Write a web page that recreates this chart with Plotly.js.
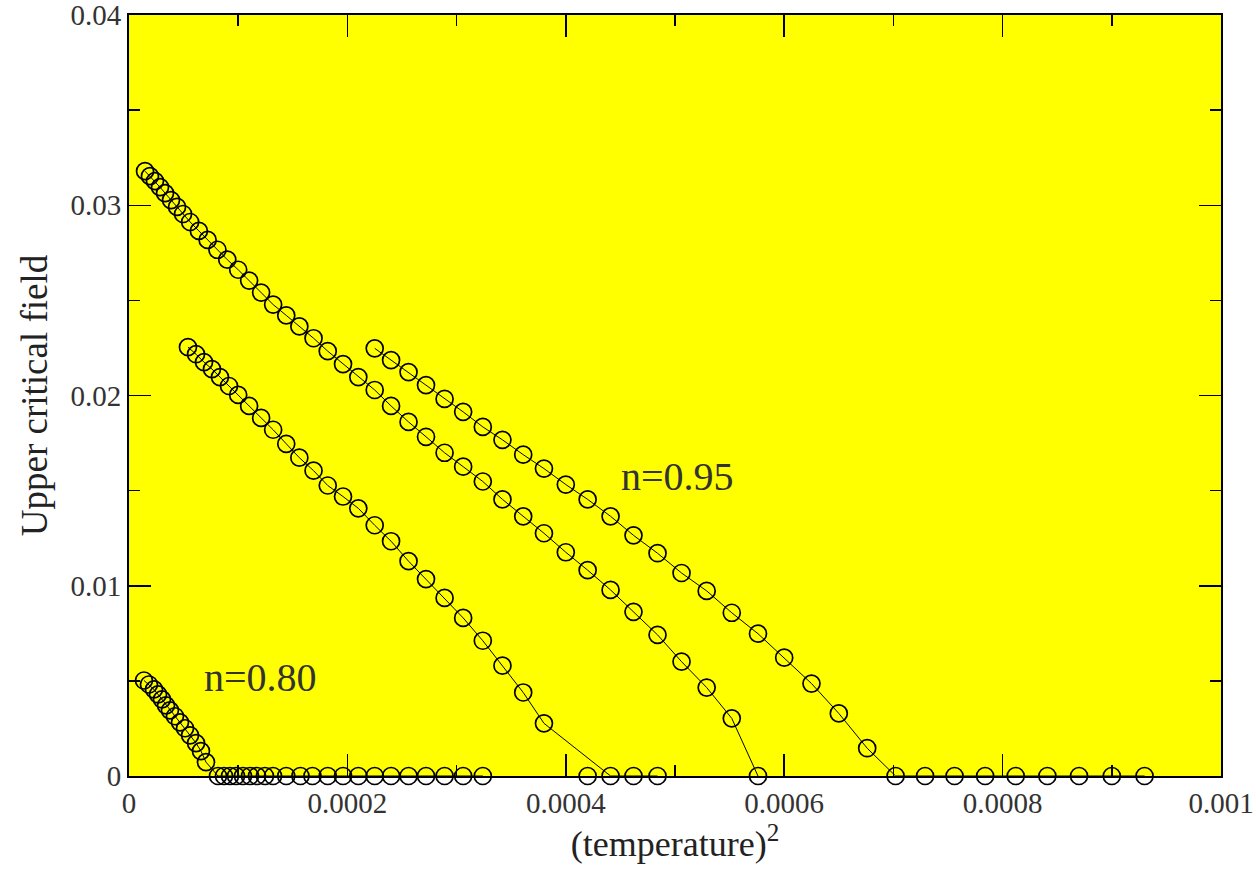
<!DOCTYPE html>
<html>
<head>
<meta charset="utf-8">
<script src="https://cdn.plot.ly/plotly-3.0.1.min.js"></script>
<style>
html,body{margin:0;padding:0;background:#fff;}
#chart{width:1256px;height:872px;}
</style>
</head>
<body>
<div id="chart"></div>
<script>
// Series n=0.80 (bottom-left) : (temperature)^2 and upper critical field
const xA = [0.0000137,0.0000183,0.0000229,0.0000266,0.0000302,0.0000339,0.0000375,0.0000421,0.0000467,0.0000513,0.0000559,0.0000614,0.0000659,0.0000705,
            0.0000815,0.000087,0.0000925,0.000098,0.0001044,0.0001108,0.0001172,0.0001245,0.0001319,0.000144,0.000157,0.000168,0.000182,0.000196,0.00021,0.000225,0.00024,0.000256,0.000272,0.000289,0.000306,0.000324];
const yA = [0.00502,0.00481,0.00455,0.00429,0.00403,0.00371,0.00345,0.00314,0.00282,0.00251,0.00214,0.00173,0.00131,0.00073,
            0,0,0,0,0,0,0,0,0,0,0,0,0,0,0,0,0,0,0,0,0,0];

// Series starting at 0.032 (middle line)
const xB = [0.0000147,0.0000192,0.0000238,0.0000284,0.000033,0.0000385,0.000044,0.0000495,0.000056,0.000064,0.000072,0.000081,0.00009,0.0001,0.00011,0.000121,0.000132,0.000144,0.000156,0.000169,0.000182,0.000196,0.00021,0.000225,0.00024,0.000256,0.000272,0.000289,0.000306,0.000324,0.000342,0.000361,0.00038,0.0004,0.00042,0.000441,0.000462,0.000484,0.000506,0.000529,0.000552,0.000576];
const yB = [0.03179,0.03153,0.03127,0.03095,0.03064,0.03027,0.02991,0.02954,0.02912,0.02865,0.02818,0.02766,0.02714,0.02661,0.02604,0.02541,0.02478,0.02421,0.02363,0.02301,0.02233,0.02165,0.02097,0.02029,0.01945,0.01861,0.01783,0.01699,0.01626,0.01548,0.01454,0.01365,0.01276,0.01176,0.01082,0.00978,0.00863,0.00742,0.00601,0.00465,0.00303,0];

// Lower line starting at 0.0225
const xC = [0.000054,0.0000614,0.0000687,0.000076,0.0000833,0.0000916,0.0001,0.00011,0.000121,0.000132,0.000144,0.000156,0.000169,0.000182,0.000196,0.00021,0.000225,0.00024,0.000256,0.000272,0.000289,0.000306,0.000324,0.000342,0.000361,0.00038,0.000441,0.000462,0.000484];
const yC = [0.02254,0.02217,0.02175,0.02139,0.02097,0.0205,0.02003,0.01945,0.01882,0.0182,0.01746,0.01673,0.01605,0.01527,0.01469,0.01407,0.01318,0.01234,0.01129,0.01035,0.00936,0.00831,0.00711,0.0058,0.00439,0.00277,0,0,0];

// Upper-right line (n=0.95)
const xD = [0.000225,0.00024,0.000256,0.000272,0.000289,0.000306,0.000324,0.000342,0.000361,0.00038,0.0004,0.00042,0.000441,0.000462,0.000484,0.000506,0.000529,0.000552,0.000576,0.0006,0.000625,0.00065,0.000676,0.000702,0.000729,0.000756,0.000784,0.000812,0.000841,0.00087,0.0009,0.00093];
const yD = [0.02248,0.02186,0.02123,0.02055,0.01982,0.01914,0.01835,0.01767,0.01689,0.01616,0.01532,0.01454,0.01365,0.01265,0.01171,0.01067,0.00973,0.00858,0.00748,0.00622,0.00486,0.00329,0.00146,0,0,0,0,0,0,0,0,0];

// Isolated zero point
const xE = [0.00042];
const yE = [0];

const xTicks = [0,0.0002,0.0004,0.0006,0.0008,0.001];
const xTickText = ["0","0.0002","0.0004","0.0006","0.0008","0.001"];
const yTicks = [0,0.01,0.02,0.03,0.04];
const yTickText = ["0","0.01","0.02","0.03","0.04"];

const FONT = "Liberation Serif, Times New Roman, serif";
const mk = {symbol:'circle-open', size:17, color:'#000', line:{width:1.7,color:'#000'}};
function tr(x,y,mode){
  return {x:x,y:y,type:'scatter',mode:mode,marker:mk,line:{color:'#000',width:1},showlegend:false,hoverinfo:'skip',cliponaxis:false};
}
const data = [
  tr(xA,yA,'lines+markers'),
  tr(xB,yB,'lines+markers'),
  tr(xC,yC,'lines+markers'),
  tr(xD,yD,'lines+markers'),
  tr(xE,yE,'markers')
];

const axisCommon = {
  showline:true, linecolor:'#000', linewidth:2, mirror:'allticks',
  ticks:'inside', ticklen:22, tickwidth:1.5, tickcolor:'#000',
  showgrid:false, zeroline:false, ticklabeloverflow:'allow',
  tickfont:{family:FONT,size:29,color:'#333'}
};
const layout = {
  width:1256, height:872,
  paper_bgcolor:'#ffffff', plot_bgcolor:'#ffff00',
  margin:{l:129,r:35,t:15,b:96},
  xaxis:Object.assign({}, axisCommon, {
    range:[0,0.001], tickvals:xTicks, ticktext:xTickText,
    minor:{ticks:'inside',ticklen:11,tickwidth:1.5,tickcolor:'#000',dtick:0.0001,tick0:0,showgrid:false},
    title:{text:'(temperature)<sup>2</sup>', font:{family:FONT,size:36,color:'#222'}, standoff:12},
    automargin:false
  }),
  yaxis:Object.assign({}, axisCommon, {
    range:[0,0.04], tickvals:yTicks, ticktext:yTickText,
    minor:{ticks:'inside',ticklen:11,tickwidth:1.5,tickcolor:'#000',dtick:0.005,tick0:0,showgrid:false},
    title:{text:'Upper critical field', font:{family:FONT,size:37,color:'#222'}, standoff:12},
    automargin:false
  }),
  annotations:[
    {x:0.000502,y:0.01574,xref:'x',yref:'y',text:'n=0.95',showarrow:false,font:{family:FONT,size:40,color:'#333'}},
    {x:0.00012,y:0.00518,xref:'x',yref:'y',text:'n=0.80',showarrow:false,font:{family:FONT,size:40,color:'#333'}}
  ]
};
Plotly.newPlot('chart', data, layout, {displayModeBar:false, staticPlot:true});
</script>
</body>
</html>
